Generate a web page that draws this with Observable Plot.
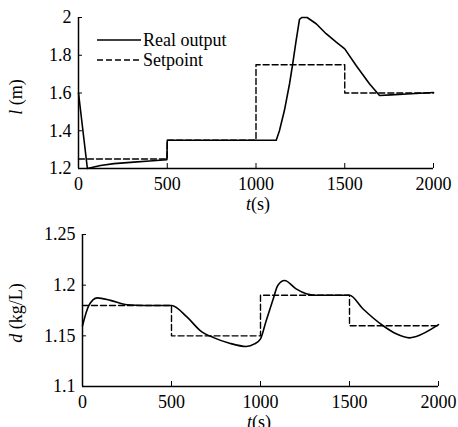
<!DOCTYPE html>
<html>
<head>
<meta charset="utf-8">
<script src="https://cdn.jsdelivr.net/npm/d3@7"></script>
<script src="https://cdn.jsdelivr.net/npm/@observablehq/plot@0.6"></script>
<style>
  html, body { margin: 0; padding: 0; background: #fff; }
  #wrap { position: relative; width: 458px; height: 427px; overflow: hidden; }
  #wrap svg { position: absolute; left: 0; background: transparent; overflow: visible; }
</style>
</head>
<body>
<div id="wrap"></div>
<script>
// ---- Data ----
const xTicks = [0, 500, 1000, 1500, 2000];
const lTicks = [1.2, 1.4, 1.6, 1.8, 2];
const dTicks = [1.1, 1.15, 1.2, 1.25];

// Top panel: level l (m)
const lSetT = [0, 500, 500, 1000, 1000, 1500, 1500, 2000];
const lSetV = [1.25, 1.25, 1.35, 1.35, 1.75, 1.75, 1.6, 1.6];
const lRealT = [0, 50, 124, 200, 312, 400, 498, 500, 1000, 1114, 1132, 1160, 1189, 1207, 1226, 1245, 1258, 1288, 1339, 1395, 1452, 1500, 1564, 1639, 1696, 1760, 1850, 2000];
const lRealV = [1.6, 1.2, 1.216, 1.226, 1.234, 1.24, 1.246, 1.35, 1.35, 1.35, 1.40, 1.507, 1.649, 1.755, 1.878, 1.99, 2.0, 2.0, 1.967, 1.914, 1.869, 1.834, 1.746, 1.649, 1.587, 1.59, 1.595, 1.603];

// Bottom panel: density d (kg/L)
const dSetT = [0, 500, 500, 1000, 1000, 1500, 1500, 2000];
const dSetV = [1.18, 1.18, 1.15, 1.15, 1.19, 1.19, 1.16, 1.16];
const dRealT = [0, 36, 83, 157, 251, 350, 500, 588, 663, 740, 826, 920, 966, 1000, 1032, 1069, 1097, 1135, 1200, 1257, 1309, 1400, 1500, 1575, 1687, 1762, 1837, 1875, 2000];
const dRealV = [1.16, 1.18, 1.1875, 1.185, 1.1806, 1.18, 1.18, 1.1684, 1.155, 1.148, 1.1427, 1.1395, 1.142, 1.147, 1.165, 1.185, 1.1997, 1.2046, 1.1964, 1.1915, 1.19, 1.19, 1.19, 1.1767, 1.1602, 1.152, 1.148, 1.1494, 1.161];

const legendLabels = ["Real output", "Setpoint"];

const FONT = "Liberation Serif";
const FS = 18;

const zip = (t, v) => t.map((x, i) => ({t: x, v: v[i]}));

function panel({height, marginTop, marginBottom, marginLeft, marginRight, yDomain, yTicks, real, set, curve}) {
  return Plot.plot({
    width: 458, height, marginTop, marginBottom, marginLeft, marginRight,
    style: {fontFamily: FONT, fontSize: FS + "px", background: "transparent", color: "#000", overflow: "visible"},
    x: {domain: [0, 2000]},
    y: {domain: yDomain},
    marks: [
      Plot.axisX({ticks: xTicks.slice(1), tickSize: -5, tickFormat: () => "", label: null}),
      Plot.axisX({ticks: xTicks, tickSize: 0, tickPadding: 9, tickFormat: d => String(d), label: null}),
      Plot.axisY({ticks: yTicks, tickSize: -4, tickFormat: () => "", label: null}),
      Plot.axisY({ticks: yTicks, tickSize: 0, tickPadding: 7, tickFormat: d => String(d), label: null}),
      Plot.ruleX([0], {stroke: "#000", strokeWidth: 1.5}),
      Plot.ruleY([yDomain[0]], {stroke: "#000", strokeWidth: 1.5}),
      Plot.line(set, {x: "t", y: "v", stroke: "#000", strokeWidth: 1.4, strokeDasharray: "6,3"}),
      Plot.line(real, {x: "t", y: "v", stroke: "#000", strokeWidth: 1.6, curve})
    ]
  });
}

const wrap = document.getElementById("wrap");

const topPanel = panel({
  height: 218, marginTop: 17, marginBottom: 50, marginLeft: 78, marginRight: 25,
  yDomain: [1.2, 2], yTicks: lTicks,
  real: zip(lRealT, lRealV), set: zip(lSetT, lSetV), curve: "linear"
});
topPanel.style.top = "0px";
wrap.appendChild(topPanel);

const botPanel = panel({
  height: 215, marginTop: 22, marginBottom: 41, marginLeft: 82, marginRight: 20,
  yDomain: [1.1, 1.25], yTicks: dTicks,
  real: zip(dRealT, dRealV), set: zip(dSetT, dSetV), curve: "monotone-x"
});
botPanel.style.top = "212px";
wrap.appendChild(botPanel);

// Axis titles with italic symbols
function addTitles(svg, xCenter, xBase, yCx, yCy, sym, unit) {
  const s = d3.select(svg);
  const xt = s.append("text").attr("x", xCenter).attr("y", xBase)
    .attr("text-anchor", "middle").attr("font-size", FS).attr("fill", "#000");
  xt.append("tspan").attr("font-style", "italic").text("t");
  xt.append("tspan").text("(s)");
  const yt = s.append("text").attr("transform", `translate(${yCx},${yCy}) rotate(-90)`)
    .attr("text-anchor", "middle").attr("dy", "0.35em").attr("font-size", FS).attr("fill", "#000");
  yt.append("tspan").attr("font-style", "italic").text(sym);
  yt.append("tspan").text(" " + unit);
}
addTitles(topPanel, 258, 210, 16, 97, "l", "(m)");
addTitles(botPanel, 259, 216, 16, 101, "d", "(kg/L)");

// Legend (top panel)
const lg = d3.select(topPanel).append("g").attr("font-size", FS).attr("text-anchor", "start");
const styles = [{dash: null, w: 1.6}, {dash: "6,3", w: 1.4}];
legendLabels.forEach((lab, i) => {
  const y = 40 + i * 20;
  lg.append("line").attr("x1", 97).attr("x2", 141).attr("y1", y).attr("y2", y)
    .attr("stroke", "#000").attr("stroke-width", styles[i].w).attr("stroke-dasharray", styles[i].dash);
  lg.append("text").attr("x", 143).attr("y", y).attr("dy", "0.35em")
    .attr("text-anchor", "start").attr("fill", "#000").text(lab);
});

// Force the serif face on every text element (inline !important)
[topPanel, botPanel].forEach(svg => {
  svg.style.setProperty("font-family", FONT, "important");
  d3.select(svg).selectAll("text, tspan").each(function() {
    this.setAttribute("font-family", FONT);
    this.style.setProperty("font-family", FONT, "important");
  });
});
</script>
</body>
</html>
